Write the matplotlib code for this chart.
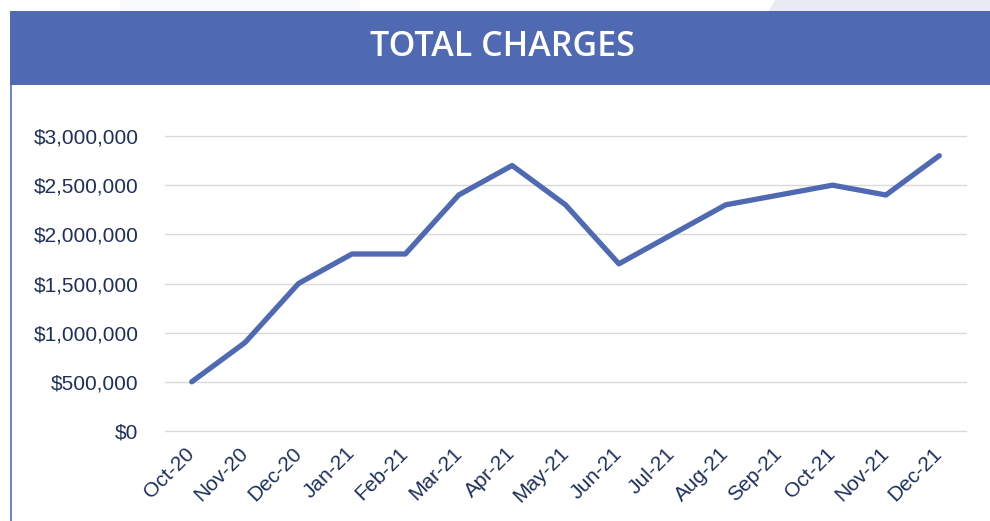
import matplotlib
matplotlib.use("Agg")
import matplotlib.pyplot as plt
from matplotlib.patches import Rectangle, Polygon
from matplotlib.ticker import FuncFormatter, MultipleLocator

months = ["Oct-20", "Nov-20", "Dec-20", "Jan-21", "Feb-21", "Mar-21", "Apr-21",
          "May-21", "Jun-21", "Jul-21", "Aug-21", "Sep-21", "Oct-21", "Nov-21", "Dec-21"]
charges = [500000, 900000, 1500000, 1800000, 1800000, 2400000, 2700000,
           2300000, 1700000, 2000000, 2300000, 2400000, 2500000, 2400000, 2800000]
title = "TOTAL CHARGES"

BLUE = "#4F6AB2"
NAVY = "#1F2F5C"
W, H = 990, 521

fig = plt.figure(figsize=(W / 100, H / 100), dpi=100)
fig.patch.set_facecolor("white")

# faint decorative background at the very top
fig.patches.append(Polygon([(120 / W, 1), (360 / W, 1), (360 / W, 1 - 11 / H), (120 / W, 1 - 11 / H)],
                           closed=True, transform=fig.transFigure, facecolor="#F9FAFB",
                           edgecolor="none", zorder=0))
fig.patches.append(Polygon([(775 / W, 1), (1.0, 1), (1.0, 1 - 11 / H), (769 / W, 1 - 11 / H)],
                           closed=True, transform=fig.transFigure, facecolor="#E8EBF2",
                           edgecolor="none", zorder=0))

# title bar
fig.patches.append(Rectangle((10 / W, 1 - 85 / H), 1 - 10 / W, 74 / H,
                             transform=fig.transFigure, facecolor=BLUE, edgecolor="none", zorder=1))
# left border line
fig.patches.append(Rectangle((10 / W, 0), 1.6 / W, 1 - 85 / H,
                             transform=fig.transFigure, facecolor="#6F86C4", edgecolor="none", zorder=1))
fig.text(502 / W, 1 - 47 / H, title, color="white", fontsize=24.5, fontweight="semibold",
         family=["Open Sans", "DejaVu Sans"], ha="center", va="center", zorder=2)

ax = fig.add_axes([165 / W, 1 - 431 / H, (966 - 165) / W, (431 - 136) / H])
x = list(range(len(months)))
ax.plot(x, charges, color=BLUE, linewidth=3.8, solid_capstyle="round",
        solid_joinstyle="round", zorder=3)

ax.set_xlim(-0.5, len(months) - 0.5)
ax.set_ylim(0, 3000000)
ax.yaxis.set_major_locator(MultipleLocator(500000))
ax.yaxis.set_major_formatter(FuncFormatter(lambda v, p: "${:,.0f}".format(v)))
ax.grid(axis="y", color="#D9D9D9", linewidth=1.0)
for gl in ax.get_ygridlines():
    gl.set_clip_on(False)
ax.set_axisbelow(True)
for s in ax.spines.values():
    s.set_visible(False)
ax.set_xticks(x)
ax.set_xticklabels(months, rotation=45, ha="right", va="center", rotation_mode="anchor")
ax.tick_params(axis="both", length=0, colors=NAVY, labelsize=15)
ax.tick_params(axis="y", pad=19)
ax.tick_params(axis="x", pad=14)
for lbl in ax.get_xticklabels() + ax.get_yticklabels():
    lbl.set_family(["Liberation Sans", "DejaVu Sans"])
    lbl.set_color(NAVY)

fig.savefig("out.png", dpi=100, facecolor="white")
